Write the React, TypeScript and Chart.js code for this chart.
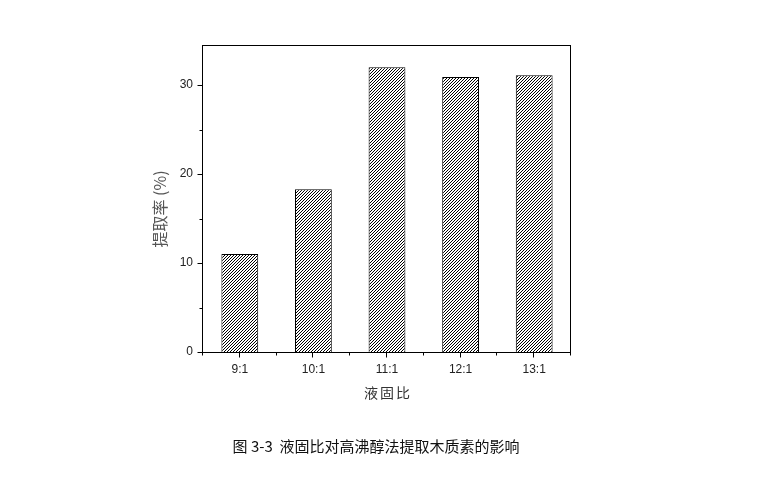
import React, { useEffect, useRef } from "react";
import { Chart, registerables } from "chart.js";

Chart.register(...registerables);

const categories = ["9:1", "10:1", "11:1", "12:1", "13:1"];
const yieldValues = [11.0, 18.3, 32.0, 30.9, 31.1];
const yMajorTicks = [0, 10, 20, 30];
const yMinorTicks = [5, 15, 25];
const yTitle = "提取率 (%)";
const xTitle = "液固比";
const caption = "图 3-3  液固比对高沸醇法提取木质素的影响";

function makeHatch(): CanvasPattern | string {
  const c = document.createElement("canvas");
  c.width = 3;
  c.height = 3;
  const g = c.getContext("2d");
  if (!g) return "#fff";
  g.fillStyle = "#fff";
  g.fillRect(0, 0, 3, 3);
  g.fillStyle = "#000";
  g.fillRect(0, 2, 1, 1);
  g.fillRect(1, 1, 1, 1);
  g.fillRect(2, 0, 1, 1);
  const p = g.createPattern(c, "repeat");
  return p || "#fff";
}

const decorPlugin = {
  id: "decor",
  afterDraw(chart: any) {
    const ctx = chart.ctx as CanvasRenderingContext2D;
    const a = chart.chartArea;
    const ys = chart.scales.y;
    const xs = chart.scales.x;
    ctx.save();
    ctx.strokeStyle = "#000";
    ctx.lineWidth = 1;
    const L = Math.round(a.left) - 0.5;
    const R = Math.round(a.right) - 0.5;
    const T = Math.round(a.top) + 0.5;
    const B = Math.round(a.bottom) + 0.5;
    ctx.strokeRect(L, T, R - L, B - T);
    ctx.beginPath();
    yMajorTicks.forEach((v) => {
      const y = Math.round(ys.getPixelForValue(v)) + 0.5;
      ctx.moveTo(L, y);
      ctx.lineTo(L - 5, y);
    });
    yMinorTicks.forEach((v) => {
      const y = Math.round(ys.getPixelForValue(v)) + 0.5;
      ctx.moveTo(L, y);
      ctx.lineTo(L - 3, y);
    });
    const n = categories.length;
    for (let i = 0; i < n; i++) {
      const x = Math.round(xs.getPixelForValue(i)) - 0.5;
      ctx.moveTo(x, B);
      ctx.lineTo(x, B + 5);
    }
    for (let i = 0; i <= n; i++) {
      const x0 = xs.getPixelForValue(i - 0.5);
      const x = Math.round(x0) - 0.5;
      ctx.moveTo(x, B);
      ctx.lineTo(x, B + 3);
    }
    ctx.stroke();

    // y title
    ctx.save();
    ctx.translate(160, 209);
    ctx.rotate(-Math.PI / 2);
    ctx.fillStyle = "#555";
    ctx.font = '16px "Noto Sans CJK SC", "Liberation Sans", sans-serif';
    ctx.textAlign = "center";
    ctx.textBaseline = "middle";
    ctx.fillText(yTitle, 0, 0);
    ctx.restore();

    // x title
    ctx.fillStyle = "#333";
    ctx.font = '14px "Noto Sans CJK SC", sans-serif';
    ctx.textAlign = "center";
    ctx.textBaseline = "middle";
    (ctx as any).letterSpacing = "2px";
    ctx.fillText(xTitle, (a.left + a.right) / 2 + 1, 393);
    (ctx as any).letterSpacing = "0px";

    // caption
    ctx.fillStyle = "#111";
    ctx.font = '15px "Noto Sans CJK SC", sans-serif';
    ctx.fillText(caption, 376, 446);
    ctx.restore();
  },
};

export default function App() {
  const ref = useRef<HTMLCanvasElement | null>(null);
  useEffect(() => {
    if (!ref.current) return;
    const hatch = makeHatch();
    const chart = new Chart(ref.current, {
      type: "bar",
      data: {
        labels: categories,
        datasets: [
          {
            data: yieldValues,
            backgroundColor: hatch as any,
            borderColor: "#000",
            borderWidth: 1,
            barPercentage: 0.5,
            categoryPercentage: 1,
          },
        ],
      },
      options: {
        animation: false,
        responsive: false,
        devicePixelRatio: 1,
        layout: { padding: { left: 0, top: 45, right: 208, bottom: 0 } },
        plugins: {
          legend: { display: false },
          tooltip: { enabled: false },
          title: { display: false },
        },
        scales: {
          x: {
            type: "category",
            offset: true,
            grid: { display: false, drawTicks: false },
            border: { display: false },
            ticks: {
              color: "#222",
              padding: 10,
              maxRotation: 0,
              font: { family: '"Liberation Sans", Arial, sans-serif', size: 12 },
            },
            afterFit: (s: any) => {
              s.height = 141;
            },
          },
          y: {
            min: 0,
            max: 34.5,
            grid: { display: false, drawTicks: false },
            border: { display: false },
            ticks: {
              stepSize: 10,
              includeBounds: false,
              color: "#222",
              padding: 10,
              font: { family: '"Liberation Sans", Arial, sans-serif', size: 12 },
            },
            afterFit: (s: any) => {
              s.width = 203;
            },
          },
        },
      },
      plugins: [decorPlugin],
    });
    return () => chart.destroy();
  }, []);
  return (
    <div style={{ position: "fixed", left: 0, top: 0, width: 779, height: 493, background: "#fff" }}>
      <canvas ref={ref} width={779} height={493} style={{ display: "block" }} />
    </div>
  );
}
